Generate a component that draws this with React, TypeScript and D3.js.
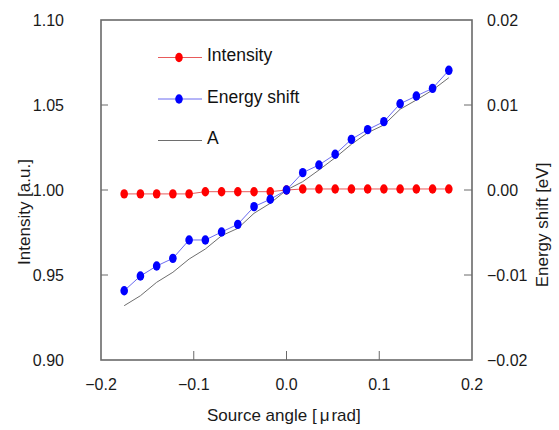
import React from "react";
import * as d3 from "d3";

const angles = [-0.175, -0.1575, -0.14, -0.1225, -0.105, -0.0875, -0.07, -0.0525, -0.035, -0.0175, 0, 0.0175, 0.035, 0.0525, 0.07, 0.0875, 0.105, 0.1225, 0.14, 0.1575, 0.175];
const intensity = [0.9977, 0.9977, 0.9977, 0.9977, 0.9977, 0.999, 0.999, 0.999, 0.999, 0.999, 1.0, 1.0006, 1.0006, 1.0006, 1.0006, 1.0006, 1.0006, 1.0006, 1.0006, 1.0006, 1.0006];
const energyShift = [-0.01185, -0.01012, -0.00894, -0.00804, -0.00588, -0.00588, -0.00494, -0.00404, -0.00196, -0.00109, 0.0, 0.00204, 0.00294, 0.0042, 0.00596, 0.0071, 0.00804, 0.01015, 0.01106, 0.01196, 0.01408];
const seriesA = [-0.01361, -0.01244, -0.01086, -0.00968, -0.00812, -0.00694, -0.00538, -0.00451, -0.00274, -0.00156, 0.0, 0.00098, 0.00235, 0.0038, 0.00538, 0.00674, 0.00765, 0.0095, 0.01059, 0.01176, 0.01321];

const xTicks = [-0.2, -0.1, 0.0, 0.1, 0.2];
const yLeftTicks = [0.9, 0.95, 1.0, 1.05, 1.1];
const yRightTicks = [-0.02, -0.01, 0.0, 0.01, 0.02];
const legendLabels = ["Intensity", "Energy shift", "A"];

const W = 559, H = 430;
const L = 101, R = 472, T = 20, B = 360;
const FONT = "'Liberation Sans', Arial, sans-serif";

export default function App() {
  const x = d3.scaleLinear().domain([-0.2, 0.2]).range([L, R]);
  const yL = d3.scaleLinear().domain([0.9, 1.1]).range([B, T]);
  const yR = d3.scaleLinear().domain([-0.02, 0.02]).range([B, T]);

  const lineI = d3.line<number>().x((_, i) => x(angles[i])).y((d) => yL(d))(intensity) || "";
  const lineE = d3.line<number>().x((_, i) => x(angles[i])).y((d) => yR(d))(energyShift) || "";
  const lineA = d3.line<number>().x((_, i) => x(angles[i])).y((d) => yR(d))(seriesA) || "";

  const red = "#ff0000", blue = "#0000ff";
  const legendY = [57.5, 99, 140.5];
  const txt = "#1a1a1a";

  return (
    <svg width={W} height={H} style={{ position: "absolute", left: 0, top: 0, background: "#fff" }} fontFamily={FONT}>
      <rect x={0} y={0} width={W} height={H} fill="#fff" />
      {/* series */}
      <path d={lineA} fill="none" stroke="#6e6e6e" strokeWidth={1} />
      <path d={lineE} fill="none" stroke="#6b6bf0" strokeWidth={1} />
      <path d={lineI} fill="none" stroke="#e85a5a" strokeWidth={1} />
      {intensity.map((d, i) => (
        <ellipse key={"i" + i} cx={x(angles[i])} cy={yL(d)} rx={3.8} ry={4.7} fill={red} />
      ))}
      {energyShift.map((d, i) => (
        <ellipse key={"e" + i} cx={x(angles[i])} cy={yR(d)} rx={3.8} ry={4.7} fill={blue} />
      ))}
      {/* frame */}
      <rect x={L} y={T} width={R - L} height={B - T} fill="none" stroke="#6a6a6a" strokeWidth={1.6} />
      {/* ticks */}
      {xTicks.slice(1, -1).map((t) => (
        <line key={"xt" + t} x1={x(t)} x2={x(t)} y1={B} y2={B - 9} stroke="#6a6a6a" strokeWidth={1} />
      ))}
      {yLeftTicks.slice(1, -1).map((t) => (
        <line key={"ylt" + t} x1={L} x2={L + 7} y1={yL(t)} y2={yL(t)} stroke="#6a6a6a" strokeWidth={1} />
      ))}
      {yRightTicks.slice(1, -1).map((t) => (
        <line key={"yrt" + t} x1={R} x2={R - 8} y1={yR(t)} y2={yR(t)} stroke="#6a6a6a" strokeWidth={1} />
      ))}
      {/* tick labels */}
      {xTicks.map((t) => (
        <text key={"xl" + t} x={x(t)} y={390} textAnchor="middle" fontSize={16} fill={txt}>
          {d3.format(".1f")(t).replace("-", "\u2212")}
        </text>
      ))}
      {yLeftTicks.map((t) => (
        <text key={"yll" + t} x={64} y={yL(t) + 6} textAnchor="end" fontSize={16} fill={txt}>
          {d3.format(".2f")(t)}
        </text>
      ))}
      {yRightTicks.map((t) => (
        <text key={"yrl" + t} x={487} y={yR(t) + 6} textAnchor="start" fontSize={16} fill={txt}>
          {d3.format(".2f")(t).replace("-", "\u2212")}
        </text>
      ))}
      {/* axis titles */}
      <text x={207} y={421} textAnchor="start" fontSize={17} fill={txt}>
        Source angle [<tspan dx={3}>μ</tspan><tspan dx={2}>rad]</tspan>
      </text>
      <text transform="translate(30,212) rotate(-90)" textAnchor="middle" fontSize={17} fill={txt}>
        Intensity [a.u.]
      </text>
      <text transform="translate(548,225) rotate(-90)" textAnchor="middle" fontSize={17} fill={txt}>
        Energy shift [eV]
      </text>
      {/* legend */}
      <line x1={158} x2={202} y1={legendY[0]} y2={legendY[0]} stroke="#e85a5a" strokeWidth={1} />
      <ellipse cx={179} cy={legendY[0]} rx={3.8} ry={4.7} fill={red} />
      <line x1={158} x2={202} y1={legendY[1]} y2={legendY[1]} stroke="#6b6bf0" strokeWidth={1} />
      <ellipse cx={179} cy={legendY[1]} rx={3.8} ry={4.7} fill={blue} />
      <line x1={158} x2={202} y1={legendY[2]} y2={legendY[2]} stroke="#6e6e6e" strokeWidth={1} />
      {legendLabels.map((s, i) => (
        <text key={s} x={207} y={legendY[i] + 3.5} fontSize={17.5} fill="#111">
          {s}
        </text>
      ))}
    </svg>
  );
}
